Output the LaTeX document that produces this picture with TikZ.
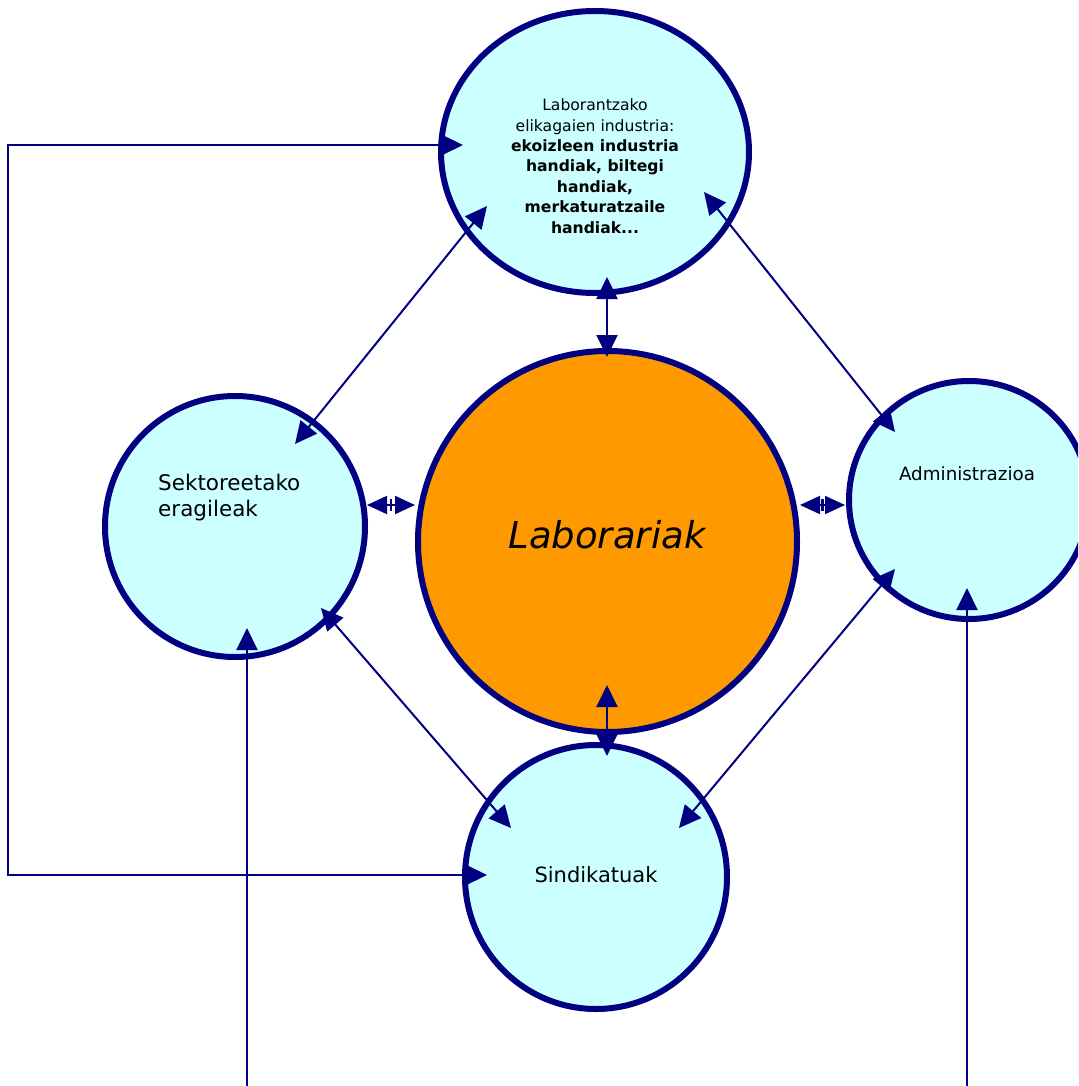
\documentclass[tikz,border=0pt]{standalone}
\usepackage{fontspec}
\setmainfont{DejaVu Sans}
\usetikzlibrary{arrows.meta,shapes.geometric,calc}
\definecolor{navyb}{HTML}{000080}
\definecolor{lcyan}{HTML}{CCFFFF}
\definecolor{orng}{HTML}{FF9900}
\begin{document}
\begin{tikzpicture}[x=1pt,y=-1pt,
  circ/.style={ellipse, draw=navyb, line width=6pt, fill=lcyan, inner sep=0pt},
  hd/.tip={Triangle[length=22pt,width=21pt]},
  sh/.tip={Triangle[length=20pt,width=18pt]},
  conn/.style={draw=navyb, line width=2pt},
  both/.style={conn, hd-hd},
  shortboth/.style={conn, sh-sh},
  one/.style={conn, -hd},
  lbl/.style={inner sep=0pt, text=black}
]
\useasboundingbox (0,0) rectangle (1078,1086);
\clip (0,0) rectangle (1078,1086);

% circles
\node[circ, minimum width=308pt, minimum height=282pt] (top) at (595,152) {};
\node[circ, fill=orng, minimum width=379pt, minimum height=381pt] (mid) at (607.5,541.5) {};
\node[circ, minimum width=260pt, minimum height=261pt] (left) at (235,526.5) {};
\node[circ, minimum width=240pt, minimum height=238pt] (right) at (969,500) {};
\node[circ, minimum width=262pt, minimum height=264pt] (bot) at (596,877) {};

% texts
\node[lbl, align=center, font=\fontsize{15.6}{20.4}\selectfont] (topText) at (595,166)
  {Laborantzako\\elikagaien industria:\\\textbf{ekoizleen industria}\\\textbf{handiak, biltegi}\\\textbf{handiak,}\\\textbf{merkaturatzaile}\\\textbf{handiak...}};
\node[lbl, align=left, anchor=west, font=\fontsize{21.5}{26}\selectfont] (leftText) at (158,498) {Sektoreetako\\eragileak};
\node[lbl, font=\fontsize{18.3}{22}\selectfont] (rightText) at (967,474) {Administrazioa};
\node[lbl, font=\fontsize{21}{26}\selectfont] (botText) at (596,875) {Sindikatuak};
\node[lbl, font=\fontsize{37}{44}\selectfont\itshape] (midText) at (607,535) {Laborariak};

% connector end points
\coordinate (tTopC) at (607,277);
\coordinate (tMidT) at (607,357);
\coordinate (tMidB) at (607,685);
\coordinate (tBotT) at (607,756);
\coordinate (tLeftR) at (367,505);
\coordinate (tMidL) at (415,505);
\coordinate (tMidR) at (800,505);
\coordinate (tRightL) at (845,505);
\coordinate (tTopLD) at (487,206);
\coordinate (tLeftTR) at (295,444);
\coordinate (tTopRD) at (704,192);
\coordinate (tRightTL) at (895,432);
\coordinate (tLeftBR) at (321,608);
\coordinate (tBotTL) at (511,828);
\coordinate (tRightBL) at (895,569);
\coordinate (tBotTR) at (679,828);
\coordinate (tTopW) at (463,145);
\coordinate (cTL) at (8,145);
\coordinate (cBL) at (8,875);
\coordinate (tBotW) at (487,875);
\coordinate (sL) at (247,1090);
\coordinate (tLeftB) at (247,628);
\coordinate (sR) at (967,1090);
\coordinate (tRightB) at (967,588);
\coordinate (mL) at ($(tLeftR)!0.5!(tMidL)$);
\coordinate (mR) at ($(tMidR)!0.5!(tRightL)$);

% connectors
\draw[both] (tTopC) -- (tMidT);
\draw[both] (tMidB) -- (tBotT);
\draw[shortboth] (tLeftR) -- (tMidL);
\draw[shortboth] (tMidR) -- (tRightL);
\draw[draw=navyb, line width=2.5pt] ($(mL)+(0,-6)$) -- ($(mL)+(0,6)$);
\draw[draw=navyb, line width=2.5pt] ($(mR)+(0,-6)$) -- ($(mR)+(0,6)$);
\draw[both] (tTopLD) -- (tLeftTR);
\draw[both] (tTopRD) -- (tRightTL);
\draw[both] (tLeftBR) -- (tBotTL);
\draw[both] (tRightBL) -- (tBotTR);
\draw[both] (tTopW) -- (cTL) -- (cBL) -- (tBotW);
\draw[one] (sL) -- (tLeftB);
\draw[one] (sR) -- (tRightB);
\end{tikzpicture}
\end{document}
